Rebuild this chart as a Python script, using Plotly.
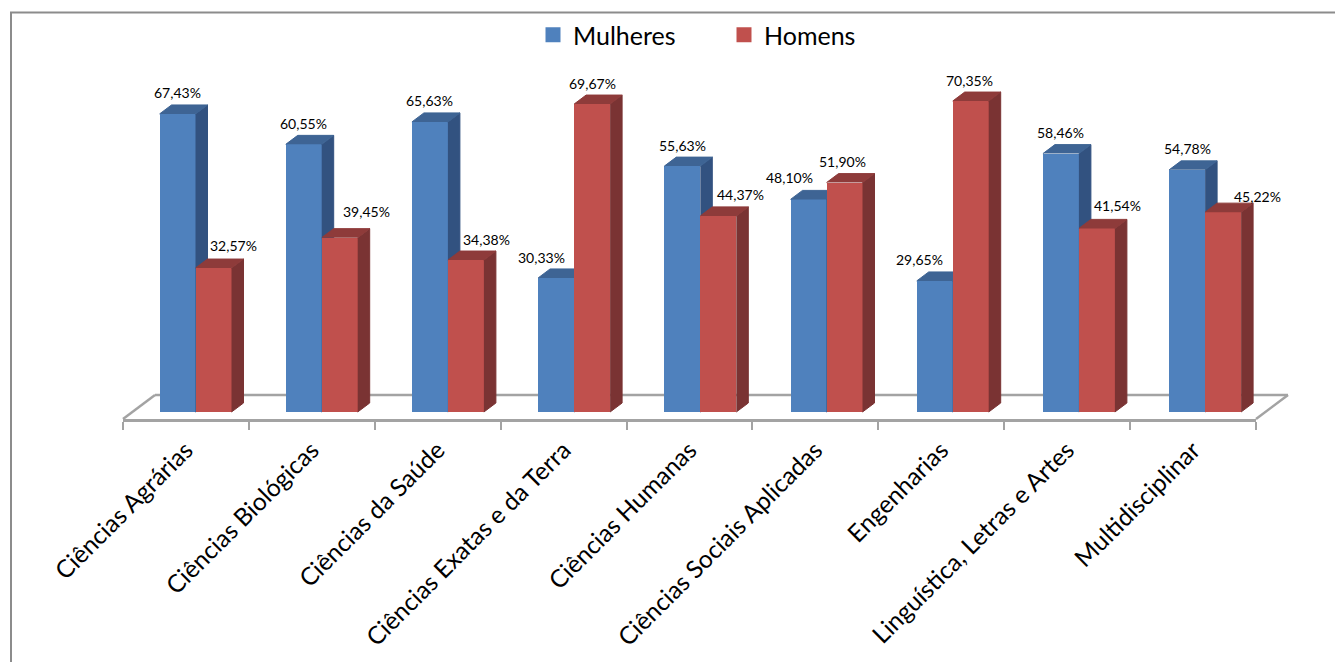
import numpy as np
import plotly.graph_objects as go

categories = ["Ciências Agrárias", "Ciências Biológicas", "Ciências da Saúde",
              "Ciências Exatas e da Terra", "Ciências Humanas",
              "Ciências Sociais Aplicadas", "Engenharias",
              "Linguística, Letras e Artes", "Multidisciplinar"]
mulheres = [67.43, 60.55, 65.63, 30.33, 55.63, 48.10, 29.65, 58.46, 54.78]
homens = [32.57, 39.45, 34.38, 69.67, 44.37, 51.90, 70.35, 41.54, 45.22]
labels_m = ["67,43%", "60,55%", "65,63%", "30,33%", "55,63%", "48,10%", "29,65%", "58,46%", "54,78%"]
labels_h = ["32,57%", "39,45%", "34,38%", "69,67%", "44,37%", "51,90%", "70,35%", "41,54%", "45,22%"]

# label placement offsets (px) as seen in the reference
shift_x_m = [0, 0, 0, -15, 0, -19, -15, 0, 0]
shift_y_m = [21, 21, 21, 20, 21, 22, 21, 21, 21]
shift_x_h = [20, 27, 21, 0, 22, -2, -1, 21, 34]
shift_y_h = [23, 26, 21, 21, 21, 21, 21, 23, 16]

W, H = 1335, 662
L, R, T, B = 123, 1256, 6, 419       # plot area in px
Y0 = 412                             # px of value 0
n = len(categories)
PX_X = (R - L) / n
PX_Y = 4.42
y_rng = [(Y0 - B) / PX_Y, (Y0 - T) / PX_Y]
x_rng = [0, n]

BW = 36 / PX_X
START = 36.5 / PX_X
STEP = 126.2 / PX_X
DX, DY = 12 / PX_X, 9 / PX_Y
BLUE, BLUE_S, BLUE_T = "#4f81bd", "#325280", "#3e6494"
RED, RED_S, RED_T = "#c0504d", "#7a3333", "#8e3b3a"
GREY = "#a3a3a3"
FONT = "Lato, Carlito, sans-serif"

idx = np.arange(n)


def poly(lefts, vals, kind):
    xs, ys = [], []
    for l, v in zip(lefts, vals):
        r = l + BW
        if kind == "side":
            xs += [r, r + DX, r + DX, r, None]
            ys += [0, DY, v + DY, v, None]
        else:
            xs += [l, l + DX, r + DX, r, None]
            ys += [v, v + DY, v + DY, v, None]
    return xs, ys


def depth(lefts, vals, kind, color, xa, ya):
    xs, ys = poly(lefts, vals, kind)
    return go.Scatter(x=xs, y=ys, mode="lines", fill="toself", fillcolor=color,
                      line=dict(width=1, color=color), hoverinfo="skip",
                      showlegend=False, xaxis=xa, yaxis=ya)


left_m = idx * STEP + START
left_h = left_m + BW

fig = go.Figure()
fig.add_trace(go.Bar(x=left_m + BW / 2, y=mulheres, width=BW, marker=dict(color=BLUE, line_width=0),
                     name="Mulheres", showlegend=False, xaxis="x", yaxis="y"))
fig.add_trace(depth(left_m, mulheres, "side", BLUE_S, "x", "y"))
fig.add_trace(depth(left_m, mulheres, "top", BLUE_T, "x", "y"))
fig.add_trace(go.Bar(x=left_h + BW / 2, y=homens, width=BW, marker=dict(color=RED, line_width=0),
                     name="Homens", showlegend=False, xaxis="x2", yaxis="y2"))
fig.add_trace(depth(left_h, homens, "side", RED_S, "x2", "y2"))
fig.add_trace(depth(left_h, homens, "top", RED_T, "x2", "y2"))

# legend entries with square swatches
for nm, col in [("Mulheres", BLUE), ("Homens", RED)]:
    fig.add_trace(go.Scatter(x=[None], y=[None], mode="markers", name=nm,
                             marker=dict(symbol="square", size=15, color=col)))

# value labels
for lefts, vals, txt, sx, sy in [(left_m, mulheres, labels_m, shift_x_m, shift_y_m),
                                 (left_h, homens, labels_h, shift_x_h, shift_y_h)]:
    for l, v, t, a, b in zip(lefts, vals, txt, sx, sy):
        fig.add_annotation(x=l + BW / 2, y=v, text=t, showarrow=False, xref="x", yref="y",
                           xshift=a, yshift=b, xanchor="center", yanchor="middle",
                           font=dict(family=FONT, size=14, color="#000000"))


def px(x):
    return (x - L) / (R - L)


def py(y):
    return (B - y) / (B - T)


# floor of the 3D box, in paper coordinates so it may leave the plot area
for x0, y0, x1, y1 in [(L, B, L + 32, B - 24), (L + 32, B - 24, R + 32, B - 24), (R, B, R + 32, B - 24)]:
    fig.add_shape(type="line", xref="paper", yref="paper", layer="below",
                  x0=px(x0), y0=py(y0), x1=px(x1), y1=py(y1),
                  line=dict(color=GREY, width=2.5))

# chart frame
fig.add_shape(type="line", xref="paper", yref="paper", x0=px(11), x1=px(11), y0=py(12), y1=py(662),
              line=dict(color="#8c8c8c", width=2))
fig.add_shape(type="line", xref="paper", yref="paper", x0=px(10), x1=px(1335), y0=py(12.5), y1=py(12.5),
              line=dict(color="#8c8c8c", width=2))

fig.update_layout(
    width=W, height=H, autosize=False,
    margin=dict(l=L, r=W - R, t=T, b=H - B, pad=0),
    paper_bgcolor="white", plot_bgcolor="rgba(0,0,0,0)",
    barmode="overlay", bargap=0,
    font=dict(family=FONT, color="#000000"),
    legend=dict(orientation="h", x=px(533), xanchor="left", y=py(12), yanchor="top",
                font=dict(family=FONT, size=25), entrywidth=146, entrywidthmode="pixels",
                bgcolor="rgba(0,0,0,0)", itemclick=False, itemdoubleclick=False),
    xaxis=dict(range=x_rng, tickmode="array", tickvals=list(range(n + 1)), ticktext=[""] * (n + 1),
               ticks="outside", ticklen=8, tickwidth=2, tickcolor=GREY, showline=True,
               linecolor=GREY, linewidth=2.5, showgrid=False, zeroline=False, fixedrange=True),
    yaxis=dict(range=y_rng, visible=False, fixedrange=True),
    xaxis2=dict(range=x_rng, overlaying="x", tickmode="array", tickvals=list(idx + 0.5), ticktext=categories,
                tickangle=-45, ticks="", showline=False, showgrid=False, zeroline=False, fixedrange=True,
                ticklabelstandoff=11, tickfont=dict(family=FONT, size=24.5, color="#000000")),
    yaxis2=dict(range=y_rng, overlaying="y", visible=False, fixedrange=True),
)

fig.write_html("out.html", config={"displayModeBar": False},
               post_script="document.body.style.margin='0';document.body.style.overflow='hidden';")
